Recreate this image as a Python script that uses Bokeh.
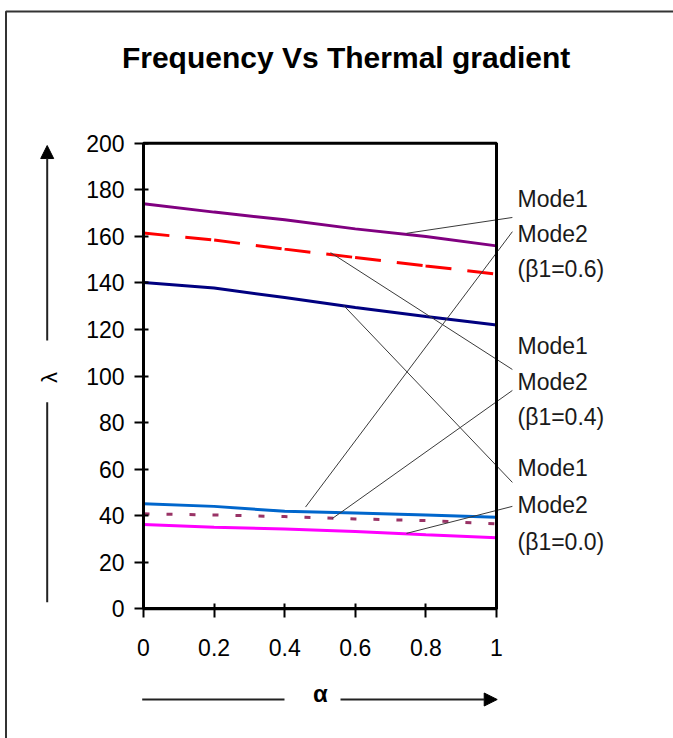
from bokeh.plotting import figure
from bokeh.models import (Range1d, FixedTicker, CustomJSTickFormatter, Label, LabelSet,
                          ColumnDataSource, Arrow, NormalHead, BoxAnnotation)
from bokeh.core.properties import value
from bokeh.embed import file_html
from bokeh.resources import INLINE

# ---------------- data ----------------
alpha = [0.0, 0.2, 0.4, 0.6, 0.8, 1.0]
mode1_b06 = [174.0, 170.4, 167.1, 163.2, 159.9, 155.9]
mode2_b06 = [161.4, 158.4, 154.5, 150.9, 147.3, 143.8]
mode1_b04 = [140.2, 137.8, 133.7, 129.4, 125.6, 121.9]
mode2_b04 = [45.1, 44.0, 41.9, 41.2, 40.3, 39.3]
mode1_b00 = [40.8, 40.3, 39.6, 38.6, 37.9, 36.5]
mode2_b00 = [36.2, 35.0, 34.3, 33.2, 31.8, 30.5]

x_ticks = [0, 0.2, 0.4, 0.6, 0.8, 1]
x_tick_labels = ["0", "0.2", "0.4", "0.6", "0.8", "1"]
y_ticks = [0, 20, 40, 60, 80, 100, 120, 140, 160, 180, 200]

title_text = "Frequency Vs Thermal gradient"
callout_texts = ["Mode1", "Mode2", "(\u03b21=0.6)",
                 "Mode1", "Mode2", "(\u03b21=0.4)",
                 "Mode1", "Mode2", "(\u03b21=0.0)"]
callout_y = [175.9, 160.8, 145.8, 112.7, 97.6, 82.6, 60.3, 44.8, 28.9]
callout_x = [1.0595] * 9

# leader lines: start on a curve, end at the callout text
lead_x0 = [0.745, 0.459, 0.530, 0.567, 0.535, 0.745]
lead_y0 = [161.3, 43.7, 153.0, 130.3, 38.8, 32.4]
lead_x1 = [1.045, 1.045, 1.045, 1.045, 1.045, 1.045]
lead_y1 = [168.1, 162.0, 102.8, 54.3, 93.8, 44.0]

FONT = "Liberation Sans"

# the frame spans the whole canvas; the plot box is x 0..1, y 0..200
p = figure(width=673, height=738, output_backend="svg", toolbar_location=None,
           x_range=Range1d(-0.4051, 1.5014), y_range=Range1d(-55.71, 261.30),
           min_border=0, min_border_left=0, min_border_right=0,
           min_border_top=0, min_border_bottom=0)
p.background_fill_color = "white"
p.border_fill_color = "white"
p.grid.visible = False
p.outline_line_color = None

for ax in (p.xaxis[0], p.yaxis[0]):
    ax.fixed_location = 0
    ax.axis_line_width = 3
    ax.axis_line_color = "black"
    ax.major_tick_line_width = 2
    ax.major_tick_line_color = "black"
    ax.minor_tick_line_color = None
    ax.major_tick_in = 5
    ax.major_tick_out = 9
    ax.major_label_text_font = FONT
    ax.major_label_text_font_size = "23px"
    ax.major_label_text_color = "black"

p.xaxis.bounds = (0, 1)
p.yaxis.bounds = (0, 200)
p.xaxis.ticker = FixedTicker(ticks=x_ticks)
p.xaxis.formatter = CustomJSTickFormatter(
    args=dict(xt=x_ticks, xl=x_tick_labels),
    code="for (let i = 0; i < xt.length; i++) { if (Math.abs(xt[i] - tick) < 1e-9) return xl[i]; } return String(tick);")
p.xaxis.major_label_standoff = 21
p.yaxis.ticker = FixedTicker(ticks=y_ticks)
p.yaxis.major_label_standoff = 10

# plot box border (top / right edges)
p.add_layout(BoxAnnotation(left=0, right=1, bottom=0, top=200, fill_alpha=0,
                           line_color="black", line_alpha=1.0, line_width=3))

# ---------------- series ----------------
p.line(alpha, mode1_b06, line_color="#800080", line_width=3)
p.line(alpha, mode2_b06, line_color="#FF0000", line_width=3, line_dash="26 16 26 3")
p.line(alpha, mode1_b04, line_color="#000080", line_width=3)
p.line(alpha, mode2_b04, line_color="#0066CC", line_width=3)
p.line(alpha, mode1_b00, line_color="#993366", line_width=3, line_dash="6 17")
p.line(alpha, mode2_b00, line_color="#FF00FF", line_width=3)

# ---------------- leader lines ----------------
p.segment(lead_x0, lead_y0, lead_x1, lead_y1, line_color="#3a3a3a", line_width=1)

# ---------------- callout labels ----------------
src = ColumnDataSource(dict(x=callout_x, y=callout_y, t=callout_texts))
p.add_layout(LabelSet(x="x", y="y", text="t", source=src, text_align="left",
                      text_baseline="middle", text_font=value(FONT),
                      text_font_size="23px", text_color="#1a1a1a"))

# ---------------- title ----------------
p.add_layout(Label(x=0.574, y=236.8, text=title_text, text_align="center",
                   text_baseline="middle", text_font=FONT, text_font_size="30px",
                   text_font_style="bold", text_color="black"))

# ---------------- axis titles with arrows ----------------
p.add_layout(Arrow(end=NormalHead(size=13, fill_color="black", line_color="black"),
                   x_start=-0.2728, y_start=115.25, x_end=-0.2728, y_end=199.0,
                   line_color="#222222", line_width=2))
p.add_layout(Arrow(end=None, x_start=-0.2728, y_start=88.75, x_end=-0.2728, y_end=2.84,
                   line_color="#222222", line_width=2))
p.add_layout(Label(x=-0.2663, y=99.4, text="\u03bb", angle=1.5708, text_align="center",
                   text_baseline="middle", text_font=FONT, text_font_size="22px",
                   text_color="black"))

p.add_layout(Arrow(end=None, x_start=-0.0037, y_start=-38.96, x_end=0.3994, y_end=-38.96,
                   line_color="#222222", line_width=2))
p.add_layout(Arrow(end=NormalHead(size=13, fill_color="black", line_color="black"),
                   x_start=0.5581, y_start=-38.96, x_end=1.002, y_end=-38.96,
                   line_color="#222222", line_width=2))
p.add_layout(Label(x=0.5014, y=-36.4, text="\u03b1", text_align="center",
                   text_baseline="middle", text_font=FONT, text_font_size="24px",
                   text_font_style="bold", text_color="black"))

# ---------------- outer border (left and top edges only visible) ----------------
p.line([-0.3895, -0.3895, 1.6], [-70, 256.57, 256.57], line_color="#333333", line_width=2)

open("out.html", "w").write(file_html(p, INLINE))
